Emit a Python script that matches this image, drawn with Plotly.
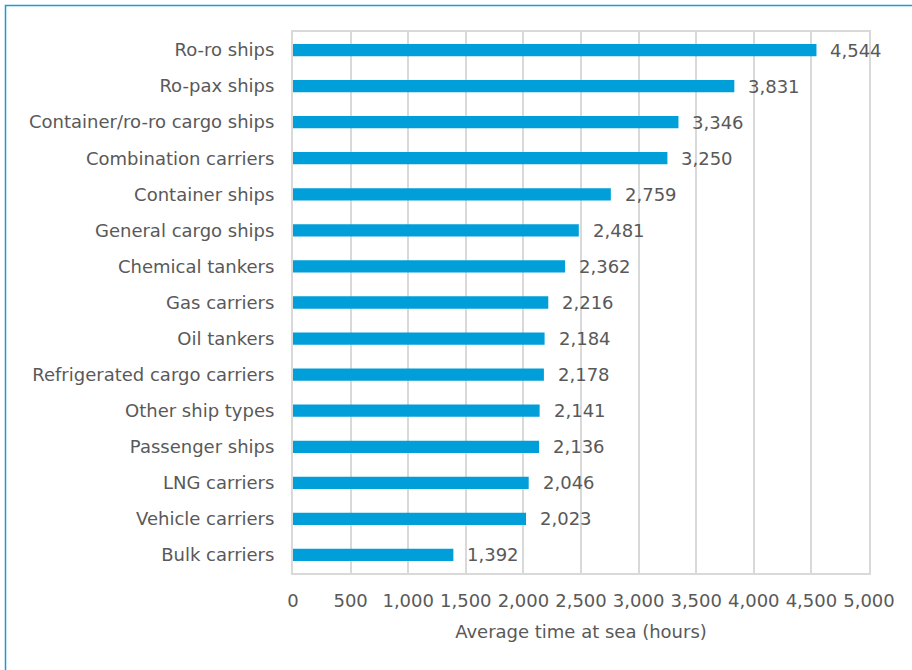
import plotly.graph_objects as go

# Average time at sea by ship type (hours)
ship_types = [
    "Ro-ro ships", "Ro-pax ships", "Container/ro-ro cargo ships",
    "Combination carriers", "Container ships", "General cargo ships",
    "Chemical tankers", "Gas carriers", "Oil tankers",
    "Refrigerated cargo carriers", "Other ship types", "Passenger ships",
    "LNG carriers", "Vehicle carriers", "Bulk carriers",
]
hours_at_sea = [4544, 3831, 3346, 3250, 2759, 2481, 2362, 2216, 2184,
                2178, 2141, 2136, 2046, 2023, 1392]
x_ticks = [0, 500, 1000, 1500, 2000, 2500, 3000, 3500, 4000, 4500, 5000]

BAR = "#009FDA"
TEXT = "#595959"
GRID = "#D9D9D9"
FONT = "DejaVu Sans"
FS = 18

W, H = 912, 670
L, R, T, B = 293, 43, 32, 97
pw, ph = W - L - R, H - T - B

fig = go.Figure(go.Bar(
    y=ship_types, x=hours_at_sea, orientation="h",
    marker=dict(color=BAR, line=dict(width=0)),
    width=0.34, hoverinfo="skip",
))

# value labels beside each bar
for name, v in zip(ship_types, hours_at_sea):
    fig.add_annotation(
        x=v, y=name, xref="x", yref="y", text=f"{v:,}",
        showarrow=False, xanchor="left", xshift=12,
        font=dict(family=FONT, size=FS, color=TEXT),
    )

# outer frame
fig.add_shape(
    type="rect", xref="paper", yref="paper",
    x0=(5.5 - L) / pw, x1=1.3, y0=-0.4, y1=1 + (T - 5.5) / ph,
    line=dict(color="#1A9AD6", width=1.5), fillcolor="rgba(0,0,0,0)",
    layer="below",
)

fig.update_layout(
    width=W, height=H,
    margin=dict(l=L, r=R, t=T, b=B, pad=0),
    paper_bgcolor="white", plot_bgcolor="white",
    showlegend=False,
    font=dict(family=FONT, size=FS, color=TEXT),
    xaxis=dict(
        range=[0, 5000], tickvals=x_ticks,
        ticktext=[f"{t:,}" for t in x_ticks],
        showgrid=True, gridcolor=GRID, gridwidth=2,
        showline=True, linecolor=GRID, linewidth=2, mirror=True,
        zeroline=False, ticks="", ticklabelstandoff=10,
        title=dict(text="Average time at sea (hours)", standoff=16,
                   font=dict(family=FONT, size=FS, color=TEXT)),
        tickfont=dict(family=FONT, size=FS, color=TEXT),
        fixedrange=True,
    ),
    yaxis=dict(
        categoryorder="array", categoryarray=ship_types[::-1],
        autorange=True,
        showgrid=False, showline=True, linecolor=GRID, linewidth=2,
        mirror=True, ticks="", ticklabelstandoff=13,
        tickfont=dict(family=FONT, size=FS, color=TEXT),
        fixedrange=True,
    ),
)

fig.write_html("out.html")
